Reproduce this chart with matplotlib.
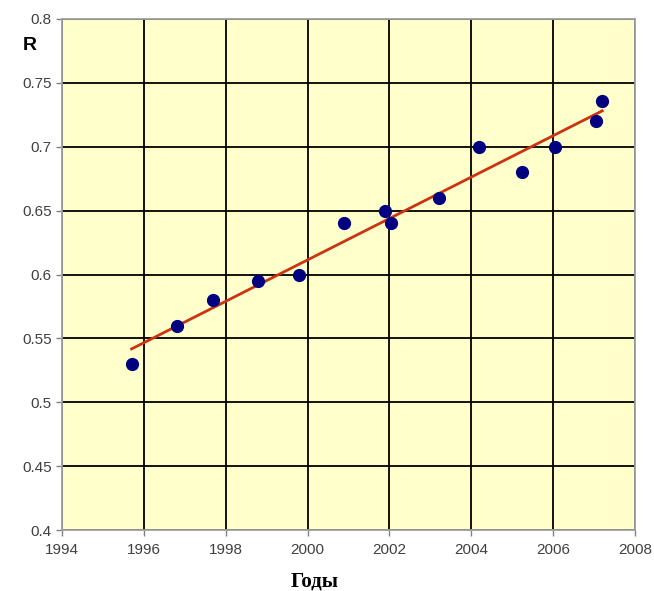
import numpy as np
import matplotlib
matplotlib.use("Agg")
import matplotlib.pyplot as plt

# data
years = [1995.7, 1996.8, 1997.7, 1998.8, 1999.8, 2000.9, 2001.9, 2002.05,
         2003.2, 2004.2, 2005.25, 2006.05, 2007.05, 2007.2]
r_vals = [0.53, 0.56, 0.58, 0.595, 0.60, 0.64, 0.65, 0.64,
          0.66, 0.70, 0.68, 0.70, 0.72, 0.736]
x_ticks = [1994, 1996, 1998, 2000, 2002, 2004, 2006, 2008]
y_ticks = [0.4, 0.45, 0.5, 0.55, 0.6, 0.65, 0.7, 0.75, 0.8]
y_tick_labels = ["0.4", "0.45", "0.5", "0.55", "0.6", "0.65", "0.7", "0.75", "0.8"]

plt.rcParams["font.family"] = ["Liberation Sans", "DejaVu Sans"]

fig = plt.figure(figsize=(6.54, 5.91), dpi=100)
ax = fig.add_axes([62 / 654, 1 - 530 / 591, (635 - 62) / 654, (530 - 19) / 591])
ax.set_facecolor("#FFFFCC")

ax.set_xlim(1994, 2008)
ax.set_ylim(0.4, 0.8)
ax.set_xticks(x_ticks)
ax.set_yticks(y_ticks)
ax.set_yticklabels(y_tick_labels)
ax.grid(True, color="black", linewidth=1.3)
ax.set_axisbelow(True)

for side in ["top", "right", "left", "bottom"]:
    ax.spines[side].set_color("#A0A0A0")
    ax.spines[side].set_linewidth(1.3)
ax.tick_params(axis="both", direction="out", length=4, width=1, color="#808080",
               labelcolor="#404040", labelsize=11)
ax.tick_params(axis="x", pad=5)

# linear trend
coef = np.polyfit(years, r_vals, 1)
xs = np.array([min(years), max(years)])
ax.plot(xs, np.polyval(coef, xs), color="#CC3311", linewidth=2, zorder=3)

ax.plot(years, r_vals, linestyle="none", marker="o", markersize=8.5,
        color="#000080", zorder=4)

fig.text(30 / 654, 1 - 46 / 591, "R", fontsize=14, fontweight="bold",
         ha="center", va="center")
fig.text(315 / 654, 1 - 582 / 591, "Годы", fontsize=15, fontweight="bold",
         family="Liberation Serif", ha="center", va="center")

fig.savefig("out.png", dpi=100, facecolor="white")
